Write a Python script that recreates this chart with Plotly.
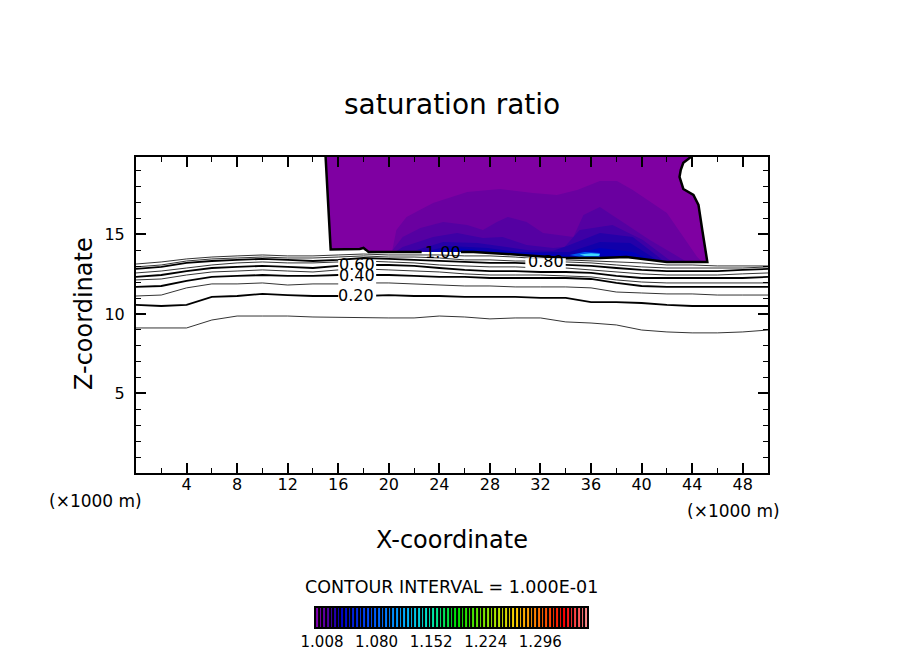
import plotly.graph_objects as go

W = 904
H = 654
# body margin of the page moves everything by this much
PAGE_OFFSET = 8
FONT = "DejaVu Sans"

stations = [0, 2, 4, 6, 8, 10, 12, 14, 16, 18, 20, 22, 24, 26, 28, 30, 32, 34, 36, 38, 40, 42, 44, 46, 48, 50]

contour_010 = [9.12, 9.12, 9.12, 9.62, 9.87, 9.87, 9.87, 9.81, 9.78, 9.75, 9.75, 9.75, 9.87, 9.81, 9.69, 9.75, 9.75, 9.50, 9.43, 9.31, 8.99, 8.87, 8.81, 8.81, 8.87, 8.99]
contour_020 = [10.57, 10.50, 10.57, 11.07, 11.13, 11.26, 11.19, 11.13, 11.13, 11.13, 11.19, 11.13, 11.13, 11.07, 11.07, 11.07, 11.01, 11.01, 10.75, 10.75, 10.69, 10.57, 10.50, 10.50, 10.50, 10.50]
contour_030 = [11.13, 11.19, 11.64, 11.89, 11.89, 11.95, 11.82, 11.89, 11.89, 11.95, 11.95, 11.89, 11.82, 11.76, 11.76, 11.70, 11.70, 11.70, 11.64, 11.38, 11.32, 11.26, 11.26, 11.19, 11.19, 11.19]
contour_040 = [11.70, 11.76, 12.08, 12.33, 12.39, 12.45, 12.39, 12.39, 12.45, 12.45, 12.45, 12.39, 12.33, 12.33, 12.26, 12.26, 12.26, 12.26, 12.20, 11.95, 11.76, 11.70, 11.70, 11.70, 11.70, 11.70]
contour_050 = [12.14, 12.20, 12.45, 12.64, 12.70, 12.77, 12.70, 12.64, 12.77, 12.83, 12.77, 12.70, 12.64, 12.52, 12.45, 12.45, 12.45, 12.39, 12.33, 12.14, 12.01, 11.95, 11.95, 11.95, 11.95, 11.95]
contour_060 = [12.33, 12.45, 12.70, 12.89, 12.96, 13.02, 12.96, 12.89, 13.02, 13.08, 13.08, 13.02, 12.89, 12.77, 12.70, 12.70, 12.64, 12.64, 12.58, 12.39, 12.26, 12.26, 12.26, 12.26, 12.26, 12.33]
contour_070 = [12.58, 12.70, 12.89, 13.08, 13.21, 13.27, 13.21, 13.21, 13.27, 13.33, 13.27, 13.21, 13.08, 13.02, 12.96, 12.96, 12.89, 12.89, 12.77, 12.64, 12.52, 12.45, 12.45, 12.45, 12.52, 12.58]
contour_080 = [12.83, 12.96, 13.21, 13.33, 13.40, 13.46, 13.40, 13.33, 13.40, 13.52, 13.46, 13.40, 13.33, 13.27, 13.21, 13.21, 13.14, 13.08, 13.02, 12.89, 12.77, 12.70, 12.70, 12.70, 12.77, 12.83]
contour_090 = [12.96, 13.08, 13.33, 13.46, 13.52, 13.58, 13.52, 13.52, 13.58, 13.65, 13.58, 13.58, 13.52, 13.40, 13.40, 13.33, 13.33, 13.27, 13.21, 13.08, 12.96, 12.89, 12.89, 12.89, 12.89, 12.96]
contour_100 = [13.14, 13.27, 13.46, 13.58, 13.65, 13.71, 13.65, 13.65, 13.71, 13.77, 13.71, 13.71, 13.71, 13.65, 13.65, 13.58, 13.46, 13.40, 13.33, 13.27, 13.21, 13.08, 13.08, 13.02, 13.02, 13.02]

contours = [contour_010, contour_020, contour_030, contour_040, contour_050, contour_060, contour_070, contour_080, contour_090, contour_100]
contour_widths = [0.8, 1.8, 0.8, 1.8, 0.8, 1.8, 0.8, 1.8, 0.8, 0.8]

# edge of the supersaturated area, clockwise from top left
edge_x = [15.0, 15.2, 15.4, 17.7, 18.0, 18.2, 18.4, 22.9, 26.7, 30.5, 33.8, 36.7, 38.8, 42.0, 45.2, 44.8, 44.5, 44.1, 43.3, 43.0, 43.1, 43.3, 43.9, 15.0]
edge_z = [19.87, 17.17, 14.06, 14.09, 14.15, 14.03, 13.90, 13.90, 13.90, 13.71, 13.52, 13.52, 13.58, 13.27, 13.27, 15.28, 16.86, 17.48, 17.86, 18.62, 19.06, 19.50, 19.87, 19.87]
outline_x = [15.0, 15.2, 15.4, 17.7, 18.0, 18.2, 18.4, 22.6, None, 25.7, 26.7, 30.5, 33.8, 36.7, 38.8, 42.0, 45.2, 44.8, 44.5, 44.1, 43.3, 43.0, 43.1, 43.3, 43.9]
outline_z = [19.87, 17.17, 14.06, 14.09, 14.15, 14.03, 13.90, 13.90, None, 13.90, 13.90, 13.71, 13.52, 13.52, 13.58, 13.27, 13.27, 15.28, 16.86, 17.48, 17.86, 18.62, 19.06, 19.50, 19.87]

bottom_x = [20.2, 22.9, 26.7, 30.5, 33.8, 36.7, 38.8, 42.0, 44.8]
bottom_z = [13.90, 13.90, 13.90, 13.71, 13.52, 13.52, 13.58, 13.27, 13.27]

band1_x = [20.25, 20.6, 21.4, 23.5, 26.2, 28.8, 31.4, 33.3, 34.9, 36.7, 38.05, 39.3, 42.0, 44.4, 44.8]
band1_z = [13.90, 15.28, 16.10, 16.98, 17.67, 17.86, 17.61, 17.48, 17.80, 18.36, 18.36, 17.80, 16.35, 13.58, 13.27]
band2_x = [20.3, 21.1, 22.5, 24.3, 26.2, 27.45, 28.55, 29.4, 30.9, 32.2, 34.6, 35.4, 36.7, 38.5, 40.65, 43.6]
band2_z = [14.03, 14.84, 15.41, 15.79, 15.60, 15.28, 15.79, 16.10, 15.79, 15.09, 14.84, 16.23, 16.73, 15.79, 14.65, 13.27]
band3_x = [20.5, 21.1, 23.5, 25.4, 27.45, 29.0, 30.9, 33.0, 33.9, 35.1, 37.7, 40.1, 42.4]
band3_z = [13.90, 14.21, 14.84, 15.09, 14.78, 14.84, 14.34, 14.15, 14.21, 15.28, 15.60, 14.65, 13.27]
band4_x = [22.2, 24.3, 27.0, 28.8, 30.9, 33.0, 34.1, 36.7, 39.3, 41.45, 41.8]
band4_z = [14.03, 14.53, 14.47, 14.28, 14.03, 13.97, 14.28, 15.09, 14.84, 13.52, 13.27]
band5_x = [22.7, 24.8, 27.8, 30.1, 34.3, 36.7, 39.1, 41.2]
band5_z = [13.90, 14.28, 14.15, 13.90, 13.90, 14.53, 14.47, 13.40]
band6_x = [23.3, 25.2, 27.2, 34.3, 36.7, 39.3, 40.4, 40.65]
band6_z = [13.90, 14.15, 14.03, 13.71, 14.15, 13.90, 13.52, 13.40]
blue_x = [34.3, 35.5, 36.7, 36.7, 35.1]
blue_z = [13.70, 13.90, 13.84, 13.60, 13.60]
cyan_x = [35.1, 36.0, 36.7, 36.6, 35.5]
cyan_z = [13.74, 13.82, 13.77, 13.65, 13.65]

label_text = ["1.00", "0.80", "0.60", "0.40", "0.20"]
label_x = [24.3, 32.4, 17.5, 17.5, 17.4]
label_z = [13.84, 13.27, 13.08, 12.39, 11.19]

bar_levels = [1.0012, 1.0060, 1.0108, 1.0156, 1.0204, 1.0252, 1.0300, 1.0348, 1.0396, 1.0444, 1.0492, 1.0540, 1.0588, 1.0636, 1.0684,
              1.0732, 1.0780, 1.0828, 1.0876, 1.0924, 1.0972, 1.1020, 1.1068, 1.1116, 1.1164, 1.1212, 1.1260, 1.1308, 1.1356, 1.1404,
              1.1452, 1.1500, 1.1548, 1.1596, 1.1644, 1.1692, 1.1740, 1.1788, 1.1836, 1.1884, 1.1932, 1.1980, 1.2028, 1.2076, 1.2124,
              1.2172, 1.2220, 1.2268, 1.2316, 1.2364, 1.2412, 1.2460, 1.2508, 1.2556, 1.2604, 1.2652, 1.2700, 1.2748, 1.2796, 1.2844,
              1.2892, 1.2940, 1.2988, 1.3036, 1.3084, 1.3132, 1.3180, 1.3228, 1.3276, 1.3324, 1.3372, 1.3420, 1.3468, 1.3516, 1.3564]
bar_ticks = [1.008, 1.080, 1.152, 1.224, 1.296]
bar_ticktext = ["1.008", "1.080", "1.152", "1.224", "1.296"]


def px(x):
    return (x - PAGE_OFFSET) / W


def py(y):
    return 1 - (y - PAGE_OFFSET) / H


def close_band(xs, zs):
    """Run the band back along the lower edge of the area."""
    back_x = []
    back_z = []
    for bx, bz in zip(reversed(bottom_x), reversed(bottom_z)):
        if xs[0] < bx < xs[-1]:
            back_x.append(bx)
            back_z.append(bz)
    return xs + back_x + [xs[0]], zs + back_z + [zs[0]]


def fill_trace(xs, zs, color):
    return go.Scatter(x=xs, y=zs, mode="lines", line=dict(width=0), fill="toself",
                      fillcolor=color, hoverinfo="skip", showlegend=False)


fig = go.Figure()

fig.add_trace(fill_trace(edge_x, edge_z, "#7f00a2"))
bands = [
    (band1_x, band1_z, "#6a00a0"),
    (band2_x, band2_z, "#5500a2"),
    (band3_x, band3_z, "#3e00a5"),
    (band4_x, band4_z, "#2500a8"),
    (band5_x, band5_z, "#1000aa"),
    (band6_x, band6_z, "#0000bb"),
]
for xs, zs, color in bands:
    cx, cz = close_band(xs, zs)
    fig.add_trace(fill_trace(cx, cz, color))
fig.add_trace(fill_trace(blue_x + blue_x[:1], blue_z + blue_z[:1], "#0058f0"))
fig.add_trace(fill_trace(cyan_x + cyan_x[:1], cyan_z + cyan_z[:1], "#40d8ff"))

for values, width in zip(contours, contour_widths):
    fig.add_trace(go.Scatter(x=stations, y=values, mode="lines", line=dict(color="black", width=width),
                             hoverinfo="skip", showlegend=False))

fig.add_trace(go.Scatter(x=outline_x, y=outline_z, mode="lines", line=dict(color="black", width=2.5),
                         hoverinfo="skip", showlegend=False))

fig.add_trace(go.Heatmap(
    x=bar_levels, y=[0], z=[bar_levels], xaxis="x2", yaxis="y2", xgap=2, showscale=False, hoverinfo="skip",
    zmin=1.0012, zmax=1.3564,
    colorscale=[
        [0.0, "#8000b0"], [0.05, "#4000a0"], [0.09, "#0000c8"], [0.2, "#0050ff"], [0.33, "#00b0ff"],
        [0.42, "#00e8c0"], [0.52, "#00e000"], [0.66, "#a8e800"], [0.74, "#ffd000"], [0.84, "#ff6000"],
        [0.92, "#ff0000"], [1.0, "#ff8888"],
    ],
))

annotations = []
for text, x, z in zip(label_text, label_x, label_z):
    annotations.append(dict(x=x, y=z, xref="x", yref="y", text=text, showarrow=False,
                            xanchor="center", yanchor="middle",
                            font=dict(family=FONT, size=16, color="black")))

page_texts = [
    ("saturation ratio", 452, 104, 28, 0),
    ("X-coordinate", 452, 540, 24, 0),
    ("Z-coordinate", 84, 314, 24, -90),
    ("(×1000 m)", 95, 501, 17, 0),
    ("(×1000 m)", 733, 511, 17, 0),
    ("CONTOUR INTERVAL = 1.000E-01", 451, 587, 17.5, 0),
]
for text, x, y, size, angle in page_texts:
    annotations.append(dict(x=px(x), y=py(y), xref="paper", yref="paper", text=text, showarrow=False,
                            xanchor="center", yanchor="middle", textangle=angle,
                            font=dict(family=FONT, size=size, color="black")))

fig.update_layout(
    width=W,
    height=H,
    margin=dict(l=0, r=0, t=0, b=0, autoexpand=False),
    paper_bgcolor="white",
    plot_bgcolor="white",
    showlegend=False,
    font=dict(family=FONT, size=16, color="black"),
    annotations=annotations,
    xaxis=dict(
        domain=[px(136), px(768)], range=[0, 50],
        tickmode="array", tickvals=[4, 8, 12, 16, 20, 24, 28, 32, 36, 40, 44, 48],
        ticktext=["4", "8", "12", "16", "20", "24", "28", "32", "36", "40", "44", "48"],
        ticks="inside", ticklen=10, tickwidth=2, tickcolor="black", ticklabelstandoff=-4,
        minor=dict(ticks="inside", dtick=2, tick0=0, ticklen=5, tickwidth=1, tickcolor="black"),
        showline=True, linecolor="black", linewidth=2, mirror="ticks",
        showgrid=False, zeroline=False,
    ),
    yaxis=dict(
        domain=[py(473), py(157)], range=[0, 19.87],
        tickmode="array", tickvals=[5, 10, 15], ticktext=["5", "10", "15"],
        ticks="inside", ticklen=10, tickwidth=2, tickcolor="black", ticklabelstandoff=6,
        minor=dict(ticks="inside", dtick=1, tick0=0, ticklen=5, tickwidth=1, tickcolor="black"),
        showline=True, linecolor="black", linewidth=2, mirror="ticks",
        showgrid=False, zeroline=False,
    ),
    xaxis2=dict(
        domain=[px(316), px(587)], range=[1.0001, 1.3576], anchor="y2",
        tickmode="array", tickvals=bar_ticks, ticktext=bar_ticktext, ticks="", tickfont=dict(size=15),
        showline=True, linecolor="black", linewidth=2, mirror=True,
        showgrid=False, zeroline=False,
    ),
    yaxis2=dict(
        domain=[py(627), py(608)], range=[-0.5, 0.5], anchor="x2",
        showticklabels=False, ticks="",
        showline=True, linecolor="black", linewidth=2, mirror=True,
        showgrid=False, zeroline=False,
    ),
    shapes=[
        # contour lines stop around the labels
        dict(type="rect", xref="x", yref="y", x0=16.0, x1=19.0, y0=10.75, y1=13.40,
             fillcolor="white", line=dict(width=0), layer="above"),
        dict(type="rect", xref="x", yref="y", x0=30.8, x1=34.0, y0=12.83, y1=13.50,
             fillcolor="white", line=dict(width=0), layer="above"),
        dict(type="rect", xref="x2 domain", yref="y2 domain", x0=0, x1=1, y0=0, y1=1,
             fillcolor="black", line=dict(width=0), layer="below"),
    ],
)

fig.write_html("out.html")
